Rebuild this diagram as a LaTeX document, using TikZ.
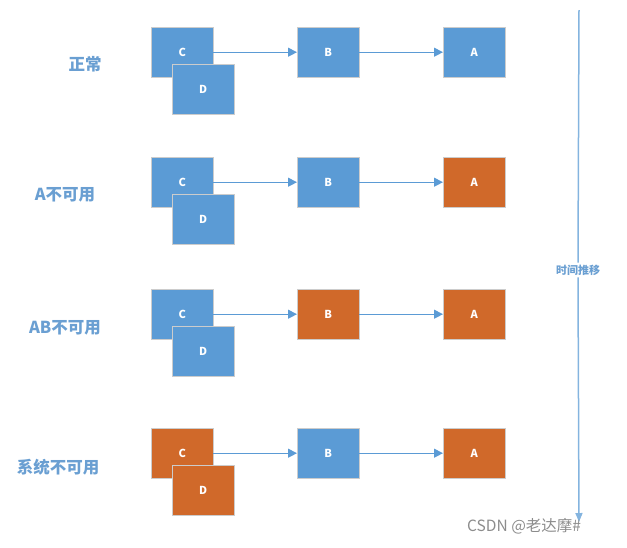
\documentclass[tikz,border=0pt]{standalone}
\usepackage{fontspec}
\setmainfont{Noto Sans CJK SC}
\newfontfamily\cjk{Noto Sans CJK SC}
\usetikzlibrary{arrows.meta}
\definecolor{bl}{HTML}{5B9BD5}
\definecolor{orng}{HTML}{D0692A}
\definecolor{lbl}{HTML}{6A9FD2}
\tikzset{
  box/.style={draw=white!80!black, line width=0.4pt, minimum width=62pt, minimum height=50pt, inner sep=0pt, text=white, font=\cjk\bfseries\fontsize{11}{12}\selectfont, anchor=north west},
  okbox/.style={box, fill=bl},
  badbox/.style={box, fill=orng},
  link/.style={draw=bl, line width=1.2pt, -{Triangle[length=9pt,width=9pt]}},
  rowlabel/.style={text=lbl, font=\cjk\bfseries\fontsize{16.5}{18}\selectfont},
}
\begin{document}
\begin{tikzpicture}[x=1pt,y=-1pt]
\useasboundingbox (0,0) rectangle (627,547);
% row 1
\node[rowlabel] (l1) at (85,64) {正常};
\node[okbox] (c1) at (151,27) {C};
\node[okbox] (d1) at (172,64) {D};
\node[okbox] (b1) at (297,27) {B};
\node[okbox] (a1) at (443,27) {A};
\draw[link] (c1.east) -- (b1.west);
\draw[link] (b1.east) -- (a1.west);
% row 2
\node[rowlabel] (l2) at (65,195) {A不可用};
\node[okbox] (c2) at (151,157) {C};
\node[okbox] (d2) at (172,194) {D};
\node[okbox] (b2) at (297,157) {B};
\node[badbox] (a2) at (443,157) {A};
\draw[link] (c2.east) -- (b2.west);
\draw[link] (b2.east) -- (a2.west);
% row 3
\node[rowlabel] (l3) at (65,328) {AB不可用};
\node[okbox] (c3) at (151,289) {C};
\node[okbox] (d3) at (172,326) {D};
\node[badbox] (b3) at (297,289) {B};
\node[badbox] (a3) at (443,289) {A};
\draw[link] (c3.east) -- (b3.west);
\draw[link] (b3.east) -- (a3.west);
% row 4
\node[rowlabel] (l4) at (58,467) {系统不可用};
\node[badbox] (c4) at (151,428) {C};
\node[badbox] (d4) at (172,465) {D};
\node[okbox] (b4) at (297,428) {B};
\node[badbox] (a4) at (443,428) {A};
\draw[link] (c4.east) -- (b4.west);
\draw[link] (b4.east) -- (a4.west);
% timeline
\coordinate (tt) at (579,10);
\coordinate (tb) at (579,522);
\node[text=lbl, font=\cjk\bfseries\fontsize{11}{12}\selectfont, fill=white, inner sep=2pt] (tl) at (578,270) {时间推移};
\draw[draw=bl!75!white, line width=1.5pt] (tt) -- (tl.north);
\draw[draw=bl!75!white, line width=1.5pt, -{Triangle[length=9pt,width=7pt]}] (tl.south) -- (tb);
% watermark
\node[text=black!45, font=\cjk\fontsize{15.5}{17}\selectfont, anchor=west, inner sep=0pt] (wm) at (467,526) {CSDN @老达摩\#};
\end{tikzpicture}
\end{document}
